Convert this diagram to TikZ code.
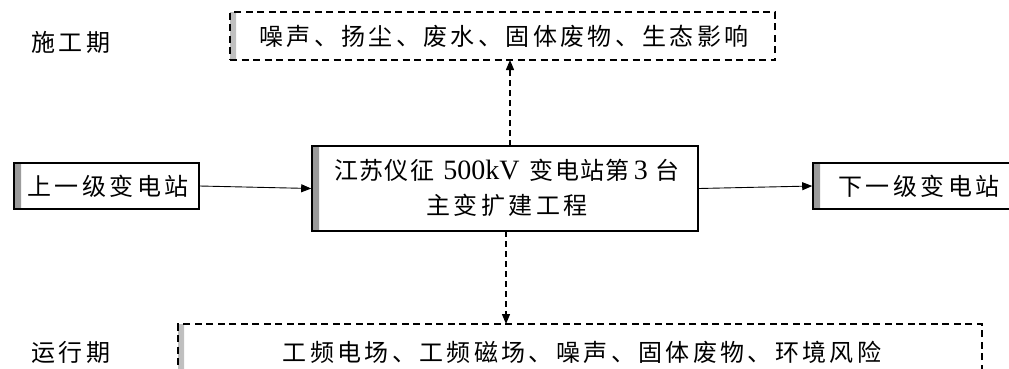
\documentclass[tikz,border=0pt]{standalone}
\usepackage{fontspec}
\setmainfont{Liberation Serif}
\newfontfamily\cjk{Noto Sans CJK SC}[LetterSpace=6]
\newfontfamily\cjkw{Noto Sans CJK SC}[LetterSpace=14]
\usetikzlibrary{arrows.meta}
\begin{document}
\begin{tikzpicture}[x=1pt,y=-1pt,
  every node/.style={font=\fontsize{24}{35}\selectfont, inner sep=0pt},
  solidbox/.style={draw, line width=1.6pt, fill=white,
    path picture={\fill[left color=gray!80, right color=white]
      (path picture bounding box.north west) rectangle ([xshift=7pt]path picture bounding box.south west);}},
  dashbox/.style={draw, line width=1.6pt, dash pattern=on 7pt off 4.5pt,
    path picture={\fill[left color=gray!50, right color=white]
      (path picture bounding box.north west) rectangle ([xshift=6pt]path picture bounding box.south west);}},
  conn/.style={line width=0.9pt, -{Triangle[length=10pt,width=8pt]}},
  dconn/.style={line width=1.3pt, dash pattern=on 6pt off 4pt, -{Triangle[length=10pt,width=8pt]}},
  lbl/.style={font=\fontsize{24}{28}\selectfont\cjkw},
  latn/.style={}
]
\useasboundingbox (0,0) rectangle (1009,368);
% boxes
\node[dashbox, minimum width=545pt, minimum height=48pt] (top) at (502.5,36) {};
\node[lbl] (toptext) at (504,36) {噪声、扬尘、废水、固体废物、生态影响};
\node[solidbox, minimum width=386pt, minimum height=85pt] (mid) at (505,188.5) {};
\node[align=center, font=\fontsize{24}{35}\selectfont] (midtext) at (507,188)
  {{\cjk 江苏仪征}\hspace{9pt}{\fontsize{28}{35}\selectfont 500kV}\hspace{10pt}{\cjk 变电站第}\hspace{4pt}{\fontsize{28}{35}\selectfont 3}\hspace{8pt}{\cjk 台}\\ {\cjkw 主变扩建工程}};
\node[solidbox, minimum width=185pt, minimum height=46pt] (up) at (106.5,186) {};
\node[lbl] (uptext) at (108,186) {上一级变电站};
\node[solidbox, minimum width=200pt, minimum height=46pt] (down) at (913,186) {};
\node[lbl] (downtext) at (919,186) {下一级变电站};
\node[dashbox, minimum width=804pt, minimum height=60pt] (bot) at (580,354) {};
\node[lbl] (bottext) at (582,352) {工频电场、工频磁场、噪声、固体废物、环境风险};
% phase labels
\node[lbl] (p1) at (71,42) {施工期};
\node[lbl] (p2) at (71,352) {运行期};
% connectors
\draw[conn] (up.east) -- (mid.west);
\draw[conn] (mid.east) -- (down.west);
\coordinate (mtop) at (510,146);
\coordinate (tbot) at (510,60);
\draw[dconn] (mtop) -- (tbot);
\coordinate (mbot) at (506,231);
\coordinate (btop) at (506,324);
\draw[dconn] (mbot) -- (btop);
\end{tikzpicture}
\end{document}
